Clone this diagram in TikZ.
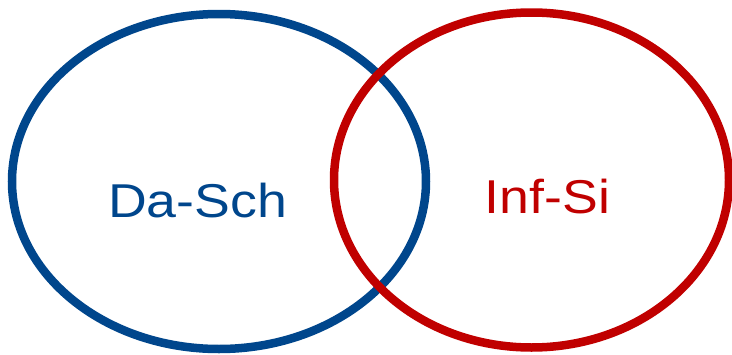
\documentclass[tikz,border=0pt]{standalone}
\usepackage{fontspec}
\setmainfont{Liberation Sans}
\definecolor{dsblue}{RGB}{0,70,140}
\definecolor{isred}{RGB}{192,0,0}
\begin{document}
\begin{tikzpicture}[x=1pt,y=-1pt,
  ring/.style={line width=8.5pt},
  lbl/.style={inner sep=0pt,anchor=base,font=\fontsize{47.5}{50}\selectfont}]
\useasboundingbox (0,0) rectangle (732,354);
\draw[ring,dsblue] (219,181.5) ellipse [x radius=207, y radius=167.5];
\draw[ring,isred] (531.5,180) ellipse [x radius=197.5, y radius=167.5];
\node[lbl,text=dsblue] (dasch) at (197.5,217) {\scalebox{1.13}[1]{Da-Sch}};
\node[lbl,text=isred] (infsi) at (547.5,213.5) {\scalebox{1.13}[1]{Inf-Si}};
\end{tikzpicture}
\end{document}
